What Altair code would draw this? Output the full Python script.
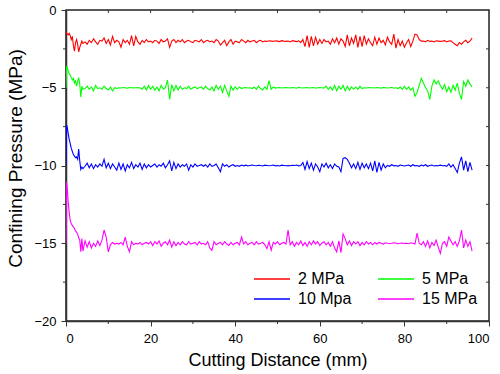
import altair as alt
import pandas as pd

FONT = "Liberation Sans"

# x sampling grid (mm): fine near the start, then every 0.5 mm
x_mm = [0, 0.15, 0.3] + [0.5 + 0.25 * i for i in range(15)] + [4.5 + 0.5 * i for i in range(184)]

p2 = [
    -1.5, -1.45, -1.55, -1.6, -1.5, -1.65, -1.9, -1.7, -2.3, -2.65, -2.1, -1.9, -2.2, -2.7, -2.4, -2.2, -2.0, -2.15,
    -2.05, -2.2, -1.95, -2.1, -1.85, -2.05, -2.2, -1.95,
    -2.0, -1.8, -2.15, -1.9, -2.25, -1.7, -2.1, -1.95,
    -2.05, -2.4, -1.9, -2.1, -1.95, -2.2, -1.65, -2.3,
    -1.7, -2.05, -2.2, -1.95, -2.1, -1.9, -2.05, -2.0,
    -2.1, -1.95, -2.0, -2.15, -1.9, -2.05, -2.0, -1.85,
    -2.4, -2.0, -1.9, -2.1, -1.95, -2.05, -1.9, -2.1,
    -2.0, -1.95, -2.05, -2.1, -1.95, -2.0, -2.05, -1.9,
    -2.1, -2.0, -1.95, -2.05, -2.0, -2.1, -1.9, -2.0,
    -2.25, -2.1, -1.95, -2.3, -2.05, -1.9, -2.2, -2.0,
    -2.05, -2.1, -1.9, -2.0, -2.1, -1.95, -2.05, -2.0,
    -1.95, -2.1, -2.0, -1.95, -2.05, -2.0, -2.02, -1.98,
    -2.0, -2.02, -1.98, -2.0, -2.03, -1.97, -2.0, -2.02,
    -2.0, -2.05, -1.97, -2.0, -2.03, -1.98, -2.1, -1.9,
    -2.35, -1.65, -2.4, -1.7, -2.3, -1.75, -2.2, -1.9,
    -2.15, -1.9, -2.05, -2.0, -2.2, -1.85, -2.1, -1.8,
    -2.2, -1.85, -2.0, -2.35, -1.6, -2.3, -1.8, -2.15,
    -1.6, -2.4, -1.7, -2.35, -1.65, -2.2, -1.85, -2.1,
    -2.3, -1.75, -2.2, -1.8, -2.1, -1.95, -2.25, -1.75,
    -2.05, -2.2, -1.55, -2.45, -1.9, -2.3, -2.0, -2.4,
    -2.1, -1.9, -2.35, -2.0, -1.55, -1.6, -1.9, -2.0,
    -2.0, -2.05, -1.95, -2.02, -2.0, -2.05, -1.98, -2.0,
    -2.02, -2.0, -1.97, -2.05, -2.0, -1.98, -2.1, -2.2,
    -2.3, -2.1, -2.2, -2.05, -1.95, -2.1, -2.0, -1.8,
]

p5 = [
    -5.0, -3.6, -3.7, -3.9, -4.1, -4.2, -4.35, -4.5, -4.4, -4.7, -4.55, -4.9, -4.6, -4.35, -4.75, -5.6, -4.9, -5.1,
    -5.05, -4.9, -5.1, -4.95, -5.2, -4.85, -5.05, -5.0,
    -5.1, -4.9, -5.05, -5.15, -4.95, -5.2, -5.0, -5.05,
    -5.0, -5.02, -4.98, -5.0, -5.03, -4.99, -5.0, -5.01,
    -5.0, -4.98, -5.02, -5.1, -4.9, -5.15, -4.85, -5.1,
    -4.9, -5.15, -4.95, -5.2, -4.85, -5.1, -5.0, -4.5,
    -5.75, -4.8, -5.2, -4.85, -5.15, -4.9, -5.1, -5.0,
    -5.05, -4.9, -5.1, -5.0, -4.95, -5.05, -5.0, -4.95,
    -5.1, -4.9, -5.05, -5.15, -4.95, -5.2, -4.85, -5.1,
    -4.9, -5.3, -4.85, -5.2, -5.55, -4.9, -5.15, -4.95,
    -5.1, -4.95, -5.05, -5.0, -4.98, -5.02, -5.0, -5.05,
    -4.95, -5.1, -4.9, -5.05, -5.15, -4.95, -5.1, -4.55,
    -5.1, -4.95, -5.02, -5.0, -4.98, -5.02, -5.0, -4.98,
    -5.0, -5.02, -4.98, -5.0, -5.03, -4.97, -5.0, -5.02,
    -5.0, -4.98, -5.02, -5.0, -4.99, -5.03, -5.0, -4.98,
    -5.0, -5.02, -4.9, -5.1, -4.95, -5.15, -4.85, -5.2,
    -4.9, -5.1, -4.85, -5.2, -4.9, -5.15, -4.95, -5.1,
    -4.95, -5.1, -4.9, -5.05, -5.0, -5.02, -4.98, -5.0,
    -5.0, -5.02, -4.98, -5.0, -5.03, -4.98, -5.0, -5.02,
    -5.0, -4.97, -5.03, -5.0, -5.05, -4.95, -5.1, -4.9,
    -5.1, -4.95, -5.15, -5.0, -5.55, -5.3, -4.85, -4.4,
    -4.7, -5.0, -5.2, -5.75, -4.9, -4.5, -4.75, -4.55,
    -4.85, -5.1, -4.8, -5.25, -4.95, -5.3, -4.85, -5.15,
    -4.7, -5.35, -5.75, -4.6, -4.9, -4.5, -4.75, -4.95,
]

p10 = [
    -10.0, -7.4, -7.55, -7.9, -8.3, -8.6, -8.9, -9.1, -9.3, -9.4, -9.5, -9.45, -9.6, -8.95, -9.7, -10.25, -10.1, -10.2,
    -10.05, -9.85, -10.15, -9.9, -10.2, -9.95, -10.1, -9.9,
    -10.05, -9.6, -10.15, -9.85, -10.2, -9.9, -10.1, -10.3,
    -9.85, -10.25, -9.9, -10.35, -9.95, -10.15, -9.8, -10.2,
    -9.95, -10.1, -9.85, -10.25, -9.9, -10.15, -9.95, -10.1,
    -10.0, -9.9, -10.1, -9.95, -10.05, -9.85, -10.15, -9.95,
    -9.7, -10.35, -9.8, -10.2, -9.9, -10.1, -9.95, -10.05,
    -9.9, -10.3, -9.95, -10.1, -9.9, -10.05, -10.0, -9.95,
    -10.05, -9.95, -10.1, -9.9, -10.05, -10.0, -9.9, -10.15,
    -10.4, -9.9, -10.05, -9.95, -10.1, -10.0, -9.95, -10.05,
    -10.0, -10.05, -9.97, -10.02, -9.98, -10.03, -10.0, -9.97,
    -10.0, -10.02, -9.98, -10.0, -10.03, -9.98, -10.0, -10.02,
    -10.0, -9.97, -10.02, -10.0, -10.03, -9.98, -10.0, -10.02,
    -10.0, -10.02, -9.98, -10.0, -9.97, -10.02, -10.0, -9.8,
    -10.25, -9.75, -10.2, -9.85, -10.3, -9.9, -10.1, -10.4,
    -9.9, -10.1, -9.85, -10.15, -9.95, -10.2, -9.9, -10.05,
    -10.1, -10.4, -9.55, -9.5, -9.6, -9.85, -10.15, -9.9,
    -10.2, -9.8, -10.25, -9.85, -10.15, -9.9, -10.2, -9.85,
    -10.35, -9.7, -10.45, -9.8, -10.3, -9.9, -10.15, -10.0,
    -10.05, -9.95, -10.02, -10.0, -10.05, -9.97, -10.0, -10.03,
    -10.0, -9.97, -10.05, -9.95, -10.02, -10.0, -10.05, -9.97,
    -10.02, -9.95, -10.05, -10.0, -9.97, -10.03, -10.0, -10.02,
    -9.98, -10.02, -10.0, -10.05, -9.9, -10.1, -9.95, -10.2,
    -10.45, -9.85, -9.45, -10.3, -9.7, -10.4, -9.8, -10.3,
]

p15 = [
    -15.0, -11.05, -11.5, -12.3, -13.0, -13.55, -13.75, -13.85, -13.95, -14.05, -14.2, -14.3, -14.4, -14.65, -14.8, -15.55, -14.7, -15.5,
    -14.85, -15.25, -14.9, -15.3, -15.0, -15.2, -14.85, -15.15,
    -14.8, -14.15, -14.6, -15.55, -15.1, -14.95, -15.05, -15.0,
    -15.05, -14.95, -15.1, -14.6, -15.2, -15.55, -14.9, -15.1,
    -15.0, -15.05, -14.95, -15.1, -15.0, -14.95, -15.05, -14.9,
    -15.15, -14.9, -15.05, -14.85, -15.2, -15.0, -14.9, -15.1,
    -14.8, -15.25, -14.9, -15.15, -14.95, -15.1, -14.9, -15.05,
    -15.1, -14.9, -15.05, -15.0, -14.95, -15.1, -14.9, -15.05,
    -15.0, -15.1, -14.9, -15.3, -15.45, -14.9, -15.1, -15.0,
    -14.95, -15.1, -14.9, -15.05, -15.15, -14.95, -15.1, -15.0,
    -14.95, -15.1, -14.6, -15.05, -14.9, -15.1, -15.0, -14.95,
    -15.1, -14.9, -15.05, -15.0, -14.95, -15.1, -15.35, -14.9,
    -15.45, -14.95, -15.05, -14.9, -15.1, -15.0, -14.95, -15.05,
    -14.15, -15.1, -14.9, -15.2, -14.95, -15.1, -14.85, -15.15,
    -14.95, -15.2, -14.9, -15.1, -14.85, -15.05, -14.9, -15.15,
    -15.0, -14.9, -15.1, -14.95, -15.2, -14.9, -15.3, -15.55,
    -14.85, -15.6, -14.4, -14.7, -15.1, -14.85, -15.15, -14.9,
    -15.05, -14.9, -15.15, -14.95, -15.1, -14.9, -15.05, -14.95,
    -15.1, -14.95, -15.05, -14.95, -15.0, -15.05, -14.97, -15.0,
    -15.02, -15.0, -14.97, -15.0, -15.03, -15.0, -14.98, -15.02,
    -15.0, -15.03, -14.97, -15.0, -15.05, -14.35, -15.0, -15.1,
    -14.9, -15.2, -14.85, -15.3, -14.95, -15.15, -14.8, -15.25,
    -15.65, -15.0, -14.9, -15.2, -14.6, -14.85, -15.1, -14.9,
    -15.2, -14.85, -14.15, -15.3, -14.8, -15.2, -14.9, -15.5,
]

series_names = ["2 MPa", "5 MPa", "10 Mpa", "15 MPa"]
series_colors = ["#ff0000", "#00ff00", "#0000ff", "#ff00ff"]
series_values = [p2, p5, p10, p15]

x_ticks = [0, 20, 40, 60, 80, 100]
x_minor = [10, 30, 50, 70, 90]
x_top = [10, 20, 30, 40, 50, 60, 70, 80, 90]
y_ticks = [-20, -15, -10, -5, 0]
y_minor = [-17.5, -12.5, -7.5, -2.5]
y_right = [-17.5, -15, -12.5, -10, -7.5, -5, -2.5]

rows = []
for name, vals in zip(series_names, series_values):
    assert len(vals) == len(x_mm), (name, len(vals))
    for i, (xv, yv) in enumerate(zip(x_mm, vals)):
        rows.append({"x": xv, "y": yv, "series": name, "i": i})
df = pd.DataFrame(rows)

W, H = 423, 311
xscale = alt.Scale(domain=[0, 100], nice=False)
yscale = alt.Scale(domain=[-20, 0], nice=False)

lines = alt.Chart(df).mark_line(strokeWidth=1.1, clip=True).encode(
    x=alt.X("x:Q", scale=xscale,
            axis=alt.Axis(values=x_ticks, title="Cutting Distance (mm)", grid=False,
                          tickSize=5, labelPadding=6, titleFontSize=18,
                          titleY=44, titleBaseline="alphabetic")),
    y=alt.Y("y:Q", scale=yscale,
            axis=alt.Axis(values=y_ticks, title="Confining Pressure (MPa)", grid=False,
                          tickSize=5, labelPadding=5, titleFontSize=19,
                          titleX=-45, titleY=148, titleBaseline="alphabetic", titleAlign="center")),
    color=alt.Color("series:N", scale=alt.Scale(domain=series_names, range=series_colors),
                    sort=series_names, title=None,
                    legend=alt.Legend(orient="none", legendX=196, legendY=259, columns=2,
                                      direction="horizontal",
                                      symbolType="M-2,0L2,0", symbolSize=324, symbolStrokeWidth=1.5,
                                      labelFontSize=16, labelOffset=16, columnPadding=23,
                                      rowPadding=2, padding=0, labelColor="#000")),
    order="i:Q",
)

minor_x = alt.Chart(pd.DataFrame({"v": x_minor})).mark_rule(color="#333", strokeWidth=1).encode(
    x=alt.X("v:Q", scale=xscale), y=alt.value(H), y2=alt.value(H + 3))
top_x = alt.Chart(pd.DataFrame({"v": x_top})).mark_rule(color="#333", strokeWidth=1).encode(
    x=alt.X("v:Q", scale=xscale), y=alt.value(0), y2=alt.value(3))
minor_y = alt.Chart(pd.DataFrame({"v": y_minor})).mark_rule(color="#333", strokeWidth=1).encode(
    y=alt.Y("v:Q", scale=yscale), x=alt.value(-3), x2=alt.value(0))
right_y = alt.Chart(pd.DataFrame({"v": y_right})).mark_rule(color="#333", strokeWidth=1).encode(
    y=alt.Y("v:Q", scale=yscale), x=alt.value(W - 3), x2=alt.value(W))

chart = alt.layer(lines, minor_x, top_x, minor_y, right_y).properties(
    width=W, height=H,
    padding={"left": 66, "top": 10, "right": 11, "bottom": 53},
    autosize=alt.AutoSizeParams(type="none"),
).configure_view(
    stroke="#222", strokeWidth=1.5
).configure_axis(
    labelFont=FONT, titleFont=FONT, labelFontSize=13, labelColor="#000", titleColor="#000",
    domainColor="#333", domainWidth=1.5, tickColor="#333", tickWidth=1,
    titleFontWeight="normal",
).configure_legend(
    labelFont=FONT
)

chart.save("out.html", embed_options={"renderer": "svg", "actions": False})
